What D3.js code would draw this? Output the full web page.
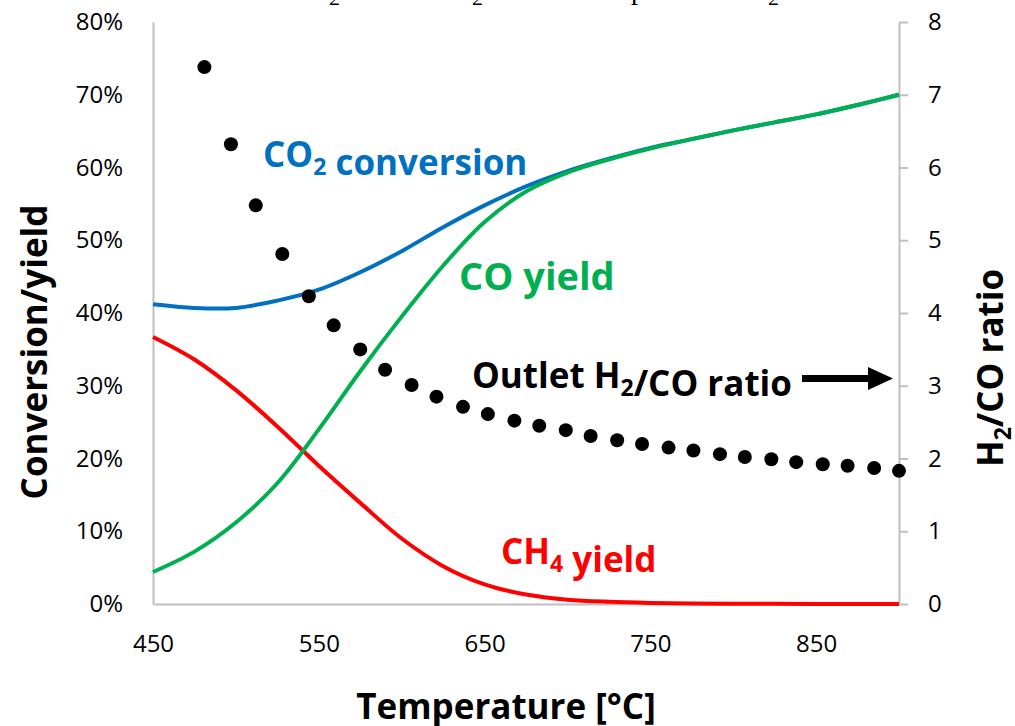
<!DOCTYPE html>
<html>
<head>
<meta charset="utf-8">
<script src="https://cdn.jsdelivr.net/npm/d3@7"></script>
<style>
  body { margin: 0; background: #fff; }
  svg { display: block; }
  text { font-family: "Open Sans", Lato, sans-serif; }
</style>
</head>
<body>
<svg id="chart" width="1015" height="726"></svg>
<script>
// Equilibrium curves, every 25 °C
const temps = [450, 475, 500, 525, 550, 575, 600, 625, 650, 675, 700, 725, 750, 775, 800, 825, 850, 875, 900];
const co2Conversion = [0.412, 0.407, 0.407, 0.417, 0.432, 0.456, 0.485, 0.518, 0.548, 0.574, 0.595, 0.612, 0.627, 0.639, 0.651, 0.662, 0.673, 0.686, 0.700];
const coYield       = [0.044, 0.072, 0.112, 0.166, 0.240, 0.320, 0.395, 0.465, 0.525, 0.567, 0.593, 0.611, 0.626, 0.639, 0.651, 0.662, 0.673, 0.686, 0.700];
const ch4Yield      = [0.367, 0.336, 0.294, 0.244, 0.190, 0.139, 0.090, 0.052, 0.027, 0.013, 0.006, 0.003, 0.0015, 0.0008, 0.0004, 0.0002, 0.0001, 0, 0];

// Outlet H2/CO ratio (right axis)
const ratioTemps  = [481, 497, 512, 528, 544, 559, 575, 590, 606, 621, 637, 652, 668, 683,
                     699, 714, 730, 745, 761, 776, 792, 807, 823, 838, 854, 869, 885, 900];
const ratioValues = [7.38, 6.32, 5.48, 4.81, 4.23, 3.83, 3.50, 3.22, 3.01, 2.85, 2.71, 2.61, 2.52, 2.45,
                     2.39, 2.31, 2.25, 2.20, 2.15, 2.11, 2.06, 2.02, 1.99, 1.95, 1.92, 1.90, 1.87, 1.83];

// Axis ticks
const xTicks = [450, 550, 650, 750, 850];
const leftTicks = [0, 0.1, 0.2, 0.3, 0.4, 0.5, 0.6, 0.7, 0.8];
const rightTicks = [0, 1, 2, 3, 4, 5, 6, 7, 8];

const svg = d3.select("#chart");
const plotLeft = 153, plotRight = 899, plotTop = 22, plotBottom = 604;
const axisColor = "#BFBFBF";

const x = d3.scaleLinear().domain([450, 900]).range([plotLeft, plotRight]);
const yL = d3.scaleLinear().domain([0, 0.8]).range([plotBottom, plotTop]);
const yR = d3.scaleLinear().domain([0, 8]).range([plotBottom, plotTop]);

// Heading line above the plot (only its lowest strokes fall inside the frame)
const head = svg.append("text")
  .attr("y", 5)
  .style("font-family", "'Liberation Serif', 'DejaVu Serif', serif")
  .style("font-size", "22px");
head.append("tspan").attr("x", 329).text("2");
head.append("tspan").attr("x", 472).text("2");
head.append("tspan").attr("x", 631).attr("y", -1).style("font-size", "28px").text("p");
head.append("tspan").attr("x", 768).attr("y", 5).text("2");

// Axes
function styleAxis(g) {
  g.select(".domain").attr("stroke", axisColor).attr("stroke-width", 2);
  g.selectAll(".tick line").attr("stroke", axisColor).attr("stroke-width", 2);
  g.selectAll(".tick text").attr("fill", "#000")
    .style("font-family", "'Open Sans', sans-serif").style("font-size", "24px");
}

svg.append("g")
  .attr("transform", `translate(${plotLeft},0)`)
  .call(d3.axisLeft(yL).tickValues(leftTicks).tickFormat(d3.format(".0%")).tickSize(0).tickPadding(30))
  .call(styleAxis);

svg.append("g")
  .attr("transform", `translate(0,${plotBottom})`)
  .call(d3.axisBottom(x).tickValues(xTicks).tickFormat(d3.format("d")).tickSize(0).tickPadding(31))
  .call(styleAxis);

svg.append("g")
  .attr("transform", `translate(${plotRight},0)`)
  .call(d3.axisRight(yR).tickValues(rightTicks).tickSize(9).tickSizeOuter(0).tickPadding(20))
  .call(styleAxis);

// Curves
const lineL = (vals) => d3.line()
  .x((d, i) => x(temps[i]))
  .y(d => yL(Math.max(0, d)))
  .curve(d3.curveCatmullRom.alpha(0.5))(vals);

const curves = [
  { values: ch4Yield, color: "#FF0000" },
  { values: co2Conversion, color: "#0070C0" },
  { values: coYield, color: "#00B050" }
];
svg.append("g").selectAll("path")
  .data(curves)
  .join("path")
  .attr("d", d => lineL(d.values))
  .attr("fill", "none")
  .attr("stroke", d => d.color)
  .attr("stroke-width", 4)
  .attr("stroke-linejoin", "round");

// Ratio markers
svg.append("g").selectAll("circle")
  .data(ratioValues)
  .join("circle")
  .attr("cx", (d, i) => x(ratioTemps[i]))
  .attr("cy", d => yR(d))
  .attr("r", 7)
  .attr("fill", "#000");

// Series labels
function label(xp, yp, color, size, parts) {
  const t = svg.append("text")
    .attr("x", xp).attr("y", yp)
    .attr("fill", color)
    .style("font-weight", "700")
    .style("font-size", size + "px");
  const sub = Math.round(size * 0.65), shift = Math.round(size * 0.24);
  parts.forEach(p => {
    if (p.sub) {
      t.append("tspan").attr("dy", shift).style("font-size", sub + "px").text(p.sub);
      t.append("tspan").attr("dy", -shift).text("");
    } else {
      t.append("tspan").text(p.t);
    }
  });
  return t;
}
label(263, 167, "#0070C0", 35, [{ t: "CO" }, { sub: "2" }, { t: " conversion" }]);
label(459, 290, "#00B050", 38, [{ t: "CO yield" }]);
label(501, 564, "#FF0000", 35, [{ t: "CH" }, { sub: "4" }, { t: " yield" }]);
label(472, 388, "#000", 35, [{ t: "Outlet H" }, { sub: "2" }, { t: "/CO ratio" }]);

// Arrow pointing to the ratio axis
svg.append("line")
  .attr("x1", 802).attr("x2", 872)
  .attr("y1", 378.5).attr("y2", 378.5)
  .attr("stroke", "#000").attr("stroke-width", 7);
svg.append("path")
  .attr("d", "M868,367 L893,378.5 L868,390 Z")
  .attr("fill", "#000");

// Axis titles
svg.append("text")
  .attr("transform", `translate(47,352) rotate(-90)`)
  .attr("text-anchor", "middle")
  .style("font-weight", "700").style("font-size", "35px")
  .text("Conversion/yield");

svg.append("text")
  .attr("x", 506).attr("y", 719)
  .attr("text-anchor", "middle")
  .style("font-weight", "700").style("font-size", "35px")
  .text("Temperature [°C]");

const rt = svg.append("text")
  .attr("transform", `translate(1003,368) rotate(-90)`)
  .attr("text-anchor", "middle")
  .style("font-weight", "700").style("font-size", "35px");
rt.append("tspan").text("H");
rt.append("tspan").attr("dy", 8).style("font-size", "23px").text("2");
rt.append("tspan").attr("dy", -8).text("/CO ratio");
</script>
</body>
</html>
